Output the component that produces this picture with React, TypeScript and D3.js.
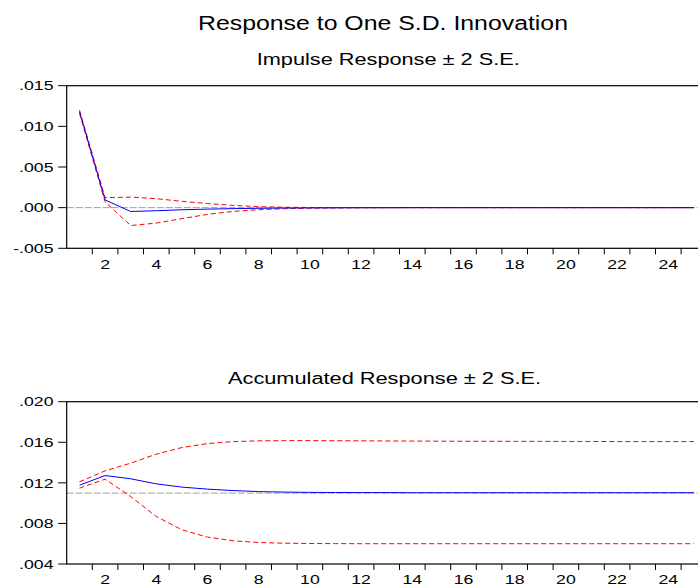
import React from "react";
import * as d3 from "d3";

const periods = Array.from({ length: 25 }, (_, i) => i + 1);
const xTickLabels = [2, 4, 6, 8, 10, 12, 14, 16, 18, 20, 22, 24];

const topTicks = [-0.005, 0.0, 0.005, 0.01, 0.015];
const topTickLabels = ["-.005", ".000", ".005", ".010", ".015"];
const bottomTicks = [0.004, 0.008, 0.012, 0.016, 0.02];
const bottomTickLabels = [".004", ".008", ".012", ".016", ".020"];

const impulseResp = [0.0118, 0.00095, -0.00047, -0.00038, -0.00026, -0.00018, -0.00012, -0.00008, -0.00005, -0.00003, -0.00002, -0.00001, -0.000005, 0, 0, 0, 0, 0, 0, 0, 0, 0, 0, 0, 0];
const impulseUpper = [0.012, 0.00123, 0.0013, 0.0011, 0.00078, 0.0005, 0.00028, 0.00012, 0.00005, 0.00002, 0.00001, 0.000005, 0, 0, 0, 0, 0, 0, 0, 0, 0, 0, 0, 0, 0];
const impulseLower = [0.0116, 0.0007, -0.0022, -0.0019, -0.00135, -0.00083, -0.00046, -0.00025, -0.00013, -0.00007, -0.00004, -0.00002, -0.00001, 0, 0, 0, 0, 0, 0, 0, 0, 0, 0, 0, 0];

const accumResp = [0.01177, 0.01272, 0.0124, 0.0119, 0.01158, 0.01138, 0.01124, 0.01114, 0.01109, 0.01106, 0.01105, 0.01104, 0.01104, 0.01103, 0.01103, 0.01103, 0.01103, 0.01103, 0.01103, 0.01103, 0.01103, 0.01103, 0.01103, 0.01103, 0.01103];
const accumUpper = [0.0121, 0.01318, 0.01394, 0.01483, 0.01548, 0.01587, 0.01607, 0.01614, 0.01616, 0.01616, 0.01615, 0.01614, 0.01613, 0.01612, 0.01611, 0.0161, 0.0161, 0.01609, 0.01609, 0.01608, 0.01608, 0.01607, 0.01607, 0.01607, 0.01607];
const accumLower = [0.01148, 0.01236, 0.01065, 0.00868, 0.00737, 0.00665, 0.00629, 0.00612, 0.00605, 0.00602, 0.00601, 0.006, 0.006, 0.006, 0.006, 0.006, 0.006, 0.006, 0.006, 0.006, 0.006, 0.006, 0.006, 0.006, 0.006];

const topRef = 0;
const bottomRef = 0.01099;

const FONT = "'Liberation Sans', Arial, Helvetica, sans-serif";
const W = 698;
const H = 585;
const LEFT = 66.7;
const STEP = 25.6;
const SX = 1.36;

type PanelProps = {
  top: number;
  bottom: number;
  domain: [number, number];
  ticks: number[];
  tickLabels: string[];
  resp: number[];
  upper: number[];
  lower: number[];
  refValue: number;
};

function Panel({ top, bottom, domain, ticks, tickLabels, resp, upper, lower, refValue }: PanelProps) {
  const x = d3.scaleLinear().domain([0.5, 25.5]).range([LEFT, LEFT + 25 * STEP]);
  const y = d3.scaleLinear().domain(domain).range([bottom, top]);
  const line = d3
    .line<number>()
    .x((_, i) => x(periods[i]))
    .y((d) => y(d));
  const right = x(25.5);
  const boundaries = d3.range(1, 26).map((k) => k + 0.5);
  return (
    <g>
      <line x1={LEFT} x2={right} y1={y(refValue)} y2={y(refValue)} stroke="#a0a0a0" strokeWidth={1} strokeDasharray="7,2" />
      <path d={line(upper) || ""} fill="none" stroke="#ff0000" strokeWidth={1} strokeDasharray="5,3" />
      <path d={line(lower) || ""} fill="none" stroke="#ff0000" strokeWidth={1} strokeDasharray="5,3" />
      <path d={line(resp) || ""} fill="none" stroke="#0000ff" strokeWidth={1} />
      <rect x={LEFT} y={top} width={right - LEFT} height={bottom - top} fill="none" stroke="#000" strokeWidth={1.2} />
      {ticks.map((t, i) => (
        <g key={"y" + i}>
          <line x1={LEFT - 8.5} x2={LEFT} y1={y(t)} y2={y(t)} stroke="#000" strokeWidth={1} />
          <text
            transform={`translate(53.5,${y(t) + 4.7}) scale(${SX},1)`}
            textAnchor="end"
            fontFamily={FONT}
            fontSize={13}
            fill="#000"
          >
            {tickLabels[i]}
          </text>
        </g>
      ))}
      {boundaries.map((b, i) => (
        <line key={"xt" + i} x1={x(b)} x2={x(b)} y1={bottom} y2={bottom + 6} stroke="#000" strokeWidth={1} />
      ))}
      {xTickLabels.map((p) => (
        <text
          key={"xl" + p}
          transform={`translate(${x(p)},${bottom + 20.4}) scale(${SX},1)`}
          textAnchor="middle"
          fontFamily={FONT}
          fontSize={13}
          fill="#000"
        >
          {p}
        </text>
      ))}
    </g>
  );
}

export default function App() {
  return (
    <svg
      width={W}
      height={H}
      style={{ position: "absolute", left: 0, top: 0, background: "#fff" }}
      xmlns="http://www.w3.org/2000/svg"
    >
      <rect x={0} y={0} width={W} height={H} fill="#fff" />
      <text x={198} y={30} fontFamily={FONT} fontSize={20} textLength={370} lengthAdjust="spacingAndGlyphs" fill="#000">
        Response to One S.D. Innovation
      </text>
      <text x={256.7} y={65} fontFamily={FONT} fontSize={16} textLength={263} lengthAdjust="spacingAndGlyphs" fill="#000">
        Impulse Response ± 2 S.E.
      </text>
      <text x={228} y={384} fontFamily={FONT} fontSize={16} textLength={313} lengthAdjust="spacingAndGlyphs" fill="#000">
        Accumulated Response ± 2 S.E.
      </text>
      <Panel
        top={85.7}
        bottom={248.3}
        domain={[-0.005, 0.015]}
        ticks={topTicks}
        tickLabels={topTickLabels}
        resp={impulseResp}
        upper={impulseUpper}
        lower={impulseLower}
        refValue={topRef}
      />
      <Panel
        top={401.7}
        bottom={564}
        domain={[0.004, 0.02]}
        ticks={bottomTicks}
        tickLabels={bottomTickLabels}
        resp={accumResp}
        upper={accumUpper}
        lower={accumLower}
        refValue={bottomRef}
      />
    </svg>
  );
}
